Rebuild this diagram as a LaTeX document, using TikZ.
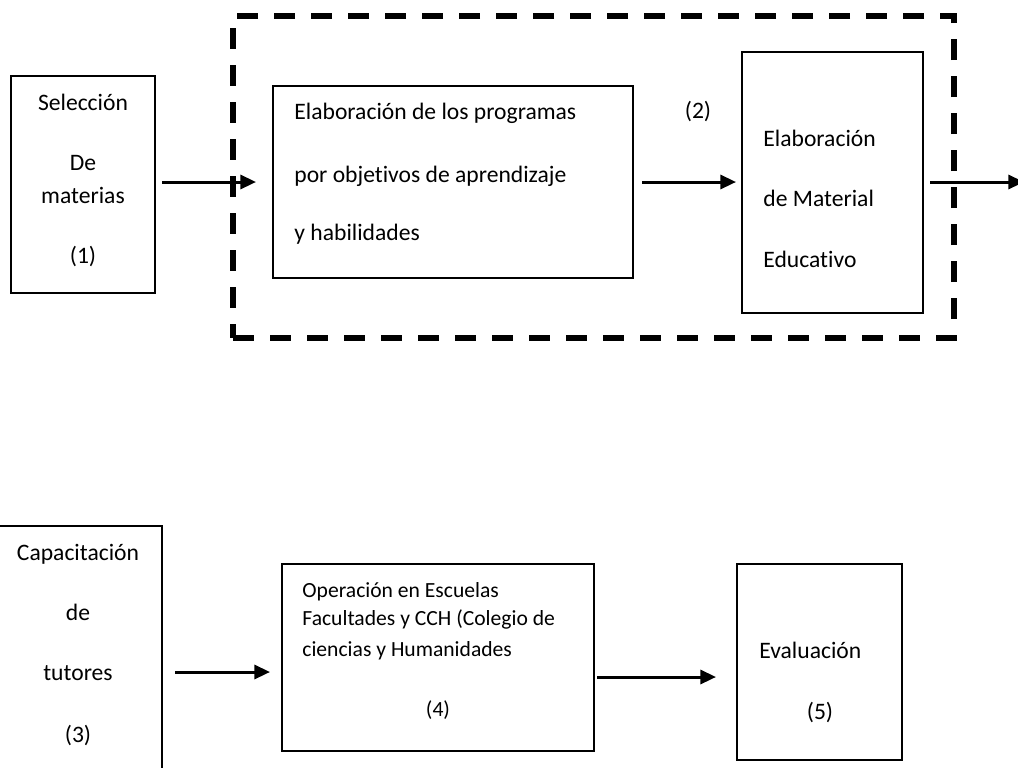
\documentclass[tikz,border=0pt]{standalone}
\usepackage{fontspec}
\setmainfont{Carlito}[Ligatures=NoCommon]
\usetikzlibrary{arrows.meta, positioning, fit}

\begin{document}
\begin{tikzpicture}[
  x=0.5pt, y=-0.5pt,
  stepbox/.style={draw, line width=1pt, inner sep=0pt},
  groupbox/.style={draw, line width=3pt, dash pattern=on 10.5pt off 8pt, inner sep=0pt},
  txt/.style={inner sep=0pt, font=\fontsize{11.8}{14}\selectfont},
  smalltxt/.style={inner sep=0pt, font=\fontsize{10.8}{13}\selectfont},
  arrow/.style={-{Triangle[length=7.8pt, width=7pt]}, line width=1.5pt}
]
\useasboundingbox (0,0) rectangle (1018,767);
\clip (0,0) rectangle (1018,767);

% upper row
\node[groupbox, fit={(233,16) (954,338)}] (group) {};
\node[stepbox, fit={(11,76) (155,293)}] (sel) {};
\node[stepbox, fit={(273,86) (633,278)}] (prog) {};
\node[stepbox, fit={(742,52) (923,313)}] (mat) {};

\node[txt, anchor=base] (sel1) at (83,110) {Selección};
\node[txt, anchor=base] (sel2) at (83,170) {De};
\node[txt, anchor=base] (sel3) at (83,203) {materias};
\node[txt, anchor=base] (sel4) at (83,263) {(1)};

\node[txt, anchor=base west] (prog1) at (294,119) {Elaboración de los programas};
\node[txt, anchor=base west] (prog2) at (294,182) {por objetivos de aprendizaje};
\node[txt, anchor=base west] (prog3) at (294,240) {y habilidades};
\node[txt, anchor=base] (num2) at (698,118) {(2)};

\node[txt, anchor=base west] (mat1) at (763,146) {Elaboración};
\node[txt, anchor=base west] (mat2) at (763,206) {de Material};
\node[txt, anchor=base west] (mat3) at (763,267) {Educativo};

% lower row
\node[stepbox, fit={(-10,526) (162,800)}] (cap) {};
\node[stepbox, fit={(282,564) (594,751)}] (oper) {};
\node[stepbox, fit={(737,564) (902,760)}] (eval) {};

\node[txt, anchor=base] (cap1) at (78,560) {Capacitación};
\node[txt, anchor=base] (cap2) at (78,620) {de};
\node[txt, anchor=base] (cap3) at (78,680) {tutores};
\node[txt, anchor=base] (cap4) at (78,742) {(3)};

\node[smalltxt, anchor=base west] (oper1) at (302,597) {Operación en Escuelas};
\node[smalltxt, anchor=base west] (oper2) at (302,625) {Facultades y CCH (Colegio de};
\node[smalltxt, anchor=base west] (oper3) at (302,656) {ciencias y Humanidades};
\node[smalltxt, anchor=base] (oper4) at (438,716) {(4)};

\node[txt, anchor=base west] (eval1) at (759,658) {Evaluación};
\node[txt, anchor=base] (eval2) at (820,719) {(5)};

% connectors
\coordinate (exit) at (1024,182);
\coordinate (lvlA) at (0,672);
\coordinate (lvlB) at (0,677);

\draw[arrow, shorten <=3pt, shorten >=8pt] (sel.east |- prog.west) -- (prog.west);
\draw[arrow, shorten <=4pt, shorten >=2.5pt] (prog.east) -- (mat.west |- prog.east);
\draw[arrow, shorten <=3pt] (mat.east |- prog.east) -- (exit);
\draw[arrow, shorten <=6pt, shorten >=5.5pt] (cap.east |- lvlA) -- (oper.west |- lvlA);
\draw[arrow, shorten <=1pt, shorten >=10pt] (oper.east |- lvlB) -- (eval.west |- lvlB);
\end{tikzpicture}
\end{document}
